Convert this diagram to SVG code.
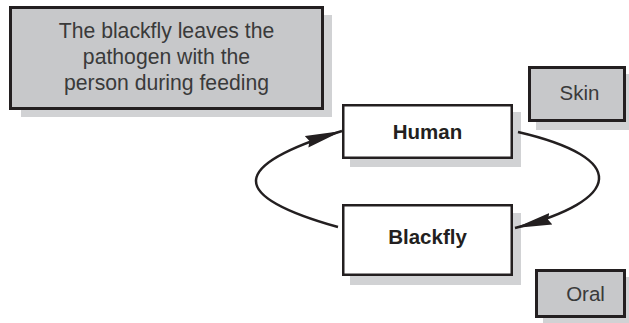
<svg xmlns="http://www.w3.org/2000/svg" width="629" height="323" viewBox="0 0 629 323">
  <style>
    .shadow { fill: #d1d2d4; }
    .gray { fill: #c7c8ca; stroke: #231f20; stroke-width: 3; }
    .white { fill: #ffffff; stroke: #231f20; stroke-width: 2.5; }
    .lbl { font-family: "Liberation Sans", Arial, sans-serif; font-size: 20.5px; fill: #3a3a3a; text-anchor: middle; }
    .note { font-size: 21.2px; }
    .bold { font-family: "Liberation Sans", Arial, sans-serif; font-size: 20.5px; font-weight: bold; fill: #231f20; text-anchor: middle; }
    .arc { fill: none; stroke: #231f20; stroke-width: 2.5; }
  </style>
  <defs>
    <marker id="arrow" markerUnits="userSpaceOnUse" markerWidth="38" markerHeight="14" viewBox="0 0 38 14" refX="37" refY="7" orient="auto">
      <path d="M0,1 L37,7 L0,13 L3,7 Z" fill="#231f20"/>
    </marker>
  </defs>
  <rect width="629" height="323" fill="#ffffff"/>

  <g id="note">
    <rect class="shadow" x="21" y="15" width="311" height="102"/>
    <rect class="gray" x="10.5" y="7.5" width="312" height="101"/>
    <text class="lbl note" x="166.5" y="37.5">The blackfly leaves the</text>
    <text class="lbl note" x="166.5" y="64">pathogen with the</text>
    <text class="lbl note" x="166.5" y="89.5">person during feeding</text>
  </g>

  <g id="human">
    <rect class="shadow" x="350" y="112" width="171" height="55"/>
    <rect class="white" x="343.25" y="105.25" width="168.5" height="52.5"/>
    <text class="bold" x="427.5" y="138.5">Human</text>
  </g>

  <g id="blackfly">
    <rect class="shadow" x="350" y="213" width="171" height="72"/>
    <rect class="white" x="343.25" y="205.25" width="168.5" height="69.5"/>
    <text class="bold" x="427.5" y="244">Blackfly</text>
  </g>

  <g id="skin">
    <rect class="shadow" x="536" y="74" width="98" height="56"/>
    <rect class="gray" x="529.5" y="67.5" width="95" height="53"/>
    <text class="lbl" x="579.5" y="99.5">Skin</text>
  </g>

  <g id="oral">
    <rect class="shadow" x="543" y="277" width="91" height="49"/>
    <rect class="gray" x="536.5" y="270.5" width="88" height="46"/>
    <text class="lbl" x="585.5" y="301">Oral</text>
  </g>

  <g id="connectors">
    <path class="arc" d="M338,227 C228,196 228,166 342,131" marker-end="url(#arrow)"/>
    <path class="arc" d="M518,132 C630,158 623,200 515,228" marker-end="url(#arrow)"/>
  </g>
</svg>
